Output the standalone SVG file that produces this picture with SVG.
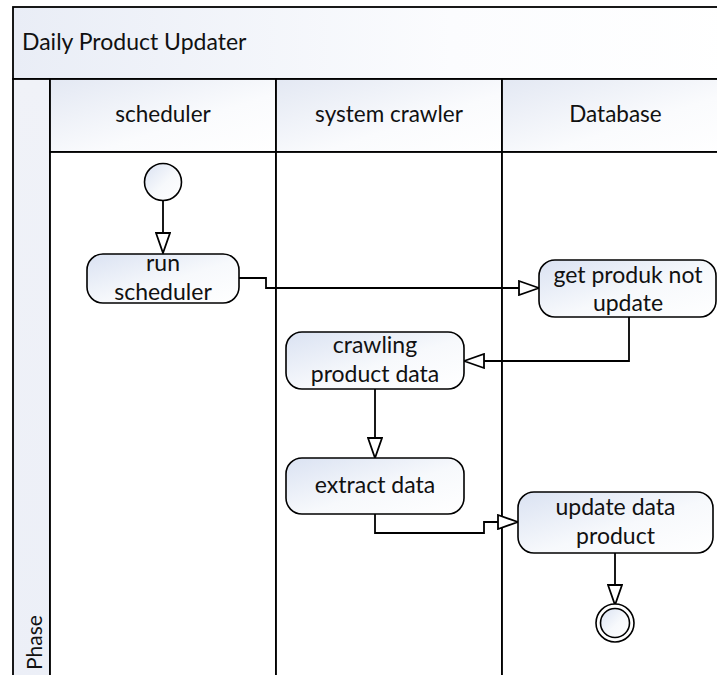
<svg xmlns="http://www.w3.org/2000/svg" width="717" height="675" viewBox="0 0 717 675">
  <style>
    .frame { stroke: #000; stroke-width: 1.8; }
    .txt { font-family: Lato, "Liberation Sans", sans-serif; fill: #111; }
    .node rect, .node circle { stroke: #000; stroke-width: 1.6; }
    .conn path { fill: none; stroke: #000; stroke-width: 1.8; }
  </style>
  <defs>
    <linearGradient id="gNode" x1="0" y1="0" x2="1" y2="1">
      <stop offset="0" stop-color="#dae2f2"/>
      <stop offset="0.55" stop-color="#f7f9fc"/>
      <stop offset="1" stop-color="#ffffff"/>
    </linearGradient>
    <linearGradient id="gHead" x1="0" y1="0" x2="1" y2="1">
      <stop offset="0" stop-color="#e3e8f3"/>
      <stop offset="0.6" stop-color="#fafbfd"/>
      <stop offset="1" stop-color="#ffffff"/>
    </linearGradient>
    <linearGradient id="gTitle" x1="0" y1="0" x2="1" y2="0">
      <stop offset="0" stop-color="#e9edf6"/>
      <stop offset="0.6" stop-color="#fbfcfe"/>
      <stop offset="1" stop-color="#ffffff"/>
    </linearGradient>
    <linearGradient id="gPhase" x1="0" y1="0" x2="0" y2="1">
      <stop offset="0" stop-color="#f0f2f8"/>
      <stop offset="1" stop-color="#eceff7"/>
    </linearGradient>
    <marker id="arrOpen" viewBox="0 0 22 16" refX="21" refY="8" markerWidth="22" markerHeight="16" markerUnits="userSpaceOnUse" orient="auto">
      <path d="M1,1 L21,8 L1,15 Z" fill="#fff" stroke="#000" stroke-width="1.8"/>
    </marker>
  </defs>

  <!-- pool frame -->
  <g id="pool">
    <rect x="13" y="7" width="730" height="72" fill="url(#gTitle)" class="frame"/>
    <text class="txt" x="22" y="50" font-size="23">Daily Product Updater</text>
    <rect x="13" y="79" width="37" height="610" fill="url(#gPhase)" class="frame"/>
    <text class="txt" transform="translate(42,670) rotate(-90)" font-size="21">Phase</text>
  </g>

  <!-- lanes -->
  <g id="lane-scheduler">
    <rect x="50" y="79" width="226" height="73" fill="url(#gHead)" class="frame"/>
    <rect x="50" y="152" width="226" height="540" fill="#fff" class="frame"/>
    <text class="txt" x="163" y="122" font-size="22.5" text-anchor="middle">scheduler</text>
  </g>
  <g id="lane-crawler">
    <rect x="276" y="79" width="226" height="73" fill="url(#gHead)" class="frame"/>
    <rect x="276" y="152" width="226" height="540" fill="#fff" class="frame"/>
    <text class="txt" x="389" y="122" font-size="22.5" text-anchor="middle">system crawler</text>
  </g>
  <g id="lane-database">
    <rect x="502" y="79" width="227" height="73" fill="url(#gHead)" class="frame"/>
    <rect x="502" y="152" width="227" height="540" fill="#fff" class="frame"/>
    <text class="txt" x="615.5" y="122" font-size="22.5" text-anchor="middle">Database</text>
  </g>

  <!-- connectors -->
  <g id="connectors" class="conn">
    <path d="M163,200 V253" marker-end="url(#arrOpen)"/>
    <path d="M239,278 H266 V288 H539" marker-end="url(#arrOpen)"/>
    <path d="M629,317 V361 H464" marker-end="url(#arrOpen)"/>
    <path d="M375,389 V458" marker-end="url(#arrOpen)"/>
    <path d="M375,514 V533 H484 V522 H518" marker-end="url(#arrOpen)"/>
    <path d="M615,553 V605" marker-end="url(#arrOpen)"/>
  </g>

  <!-- nodes -->
  <g id="start" class="node">
    <circle cx="163" cy="182" r="18.5" fill="url(#gNode)"/>
  </g>
  <g id="run-scheduler" class="node">
    <rect x="87" y="254" width="152" height="49" rx="16" fill="url(#gNode)"/>
    <text class="txt" x="163" y="271" font-size="23" text-anchor="middle">run</text>
    <text class="txt" x="163" y="300" font-size="23" text-anchor="middle">scheduler</text>
  </g>
  <g id="get-produk" class="node">
    <rect x="539" y="260" width="177" height="57" rx="16" fill="url(#gNode)"/>
    <text class="txt" x="628" y="283" font-size="23" text-anchor="middle">get produk not</text>
    <text class="txt" x="628" y="311" font-size="23" text-anchor="middle">update</text>
  </g>
  <g id="crawling" class="node">
    <rect x="286" y="332" width="178" height="57" rx="16" fill="url(#gNode)"/>
    <text class="txt" x="375" y="353" font-size="23" text-anchor="middle">crawling</text>
    <text class="txt" x="375" y="382" font-size="23" text-anchor="middle">product data</text>
  </g>
  <g id="extract" class="node">
    <rect x="286" y="458" width="178" height="56" rx="16" fill="url(#gNode)"/>
    <text class="txt" x="375" y="493" font-size="23" text-anchor="middle">extract data</text>
  </g>
  <g id="update-data" class="node">
    <rect x="518" y="492" width="195" height="61" rx="16" fill="url(#gNode)"/>
    <text class="txt" x="615.5" y="515" font-size="23" text-anchor="middle">update data</text>
    <text class="txt" x="615.5" y="544" font-size="23" text-anchor="middle">product</text>
  </g>
  <g id="end" class="node">
    <circle cx="615" cy="623" r="19" fill="#fff"/>
    <circle cx="615" cy="623" r="14.5" fill="url(#gNode)"/>
  </g>
</svg>
